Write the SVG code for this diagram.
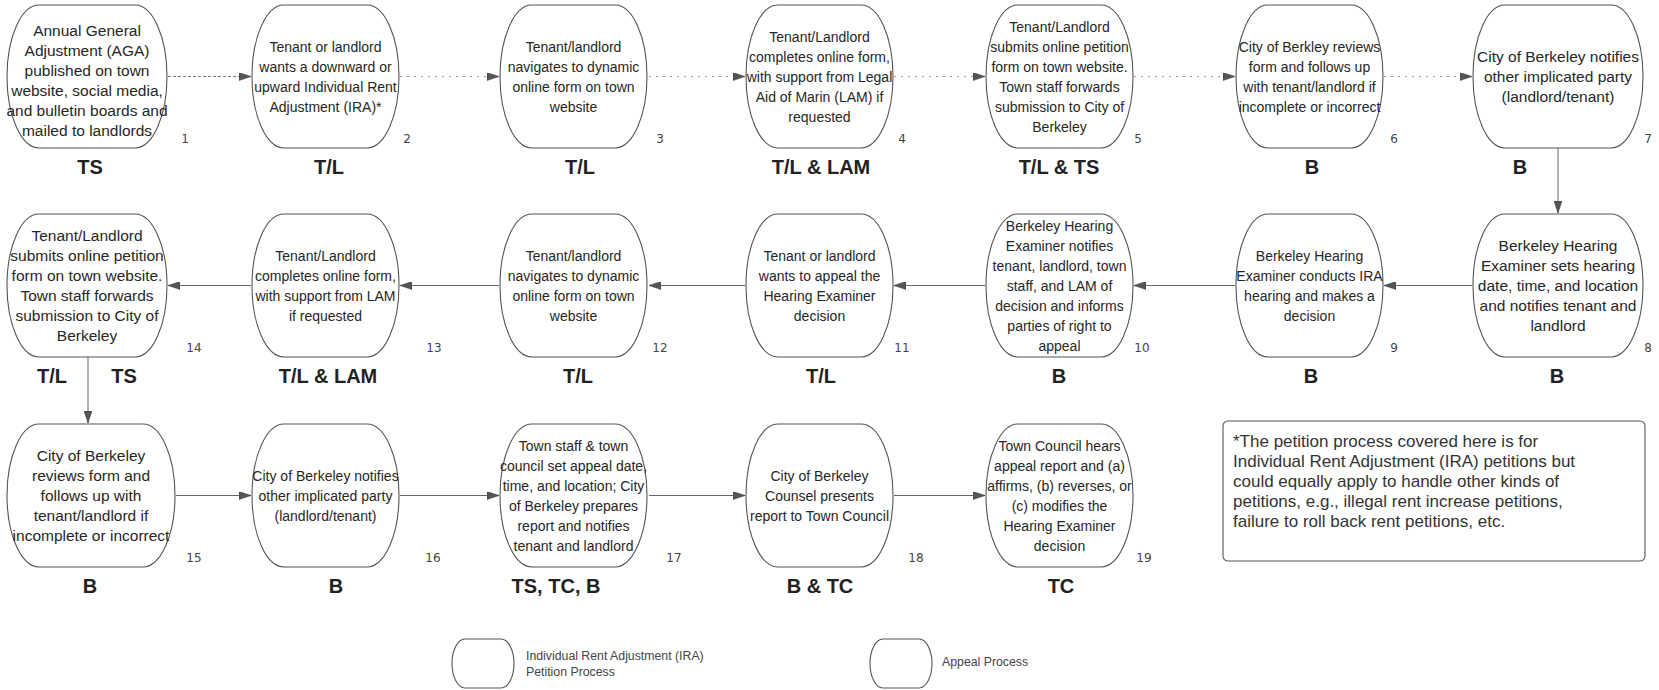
<svg xmlns="http://www.w3.org/2000/svg" width="1659" height="690" viewBox="0 0 1659 690">
<defs>
<style>
.node{fill:#fff;stroke:#555;stroke-width:1.1}
.t{font-family:"Liberation Sans",Arial,sans-serif;font-size:14px;fill:#262626;text-anchor:middle}
.tw{font-family:"Liberation Sans",Arial,sans-serif;font-size:15.5px;fill:#262626;text-anchor:middle}
.lbl{font-family:"Liberation Sans",Arial,sans-serif;font-size:20px;font-weight:bold;fill:#222;text-anchor:middle}
.num{font-family:"DejaVu Sans",sans-serif;font-size:12px;fill:#444;text-anchor:middle}
.dash{fill:none;stroke:#777;stroke-width:1;stroke-dasharray:3 2}
.dot{fill:none;stroke:#999;stroke-width:1;stroke-dasharray:2 5}
.sol{fill:none;stroke:#666;stroke-width:1}
.note{font-family:"Liberation Sans",Arial,sans-serif;font-size:17px;fill:#333}
.leg{font-family:"Liberation Sans",Arial,sans-serif;font-size:12.3px;fill:#444}
</style>
<marker id="ah" markerUnits="userSpaceOnUse" markerWidth="12" markerHeight="8" refX="12" refY="4" orient="auto">
<path d="M0,0 L12,4 L0,8 Z" fill="#555" stroke="#333" stroke-width="0.5"/>
</marker>
</defs>
<rect width="1659" height="690" fill="#fff"/>

<g id="connectors">
<line class="dash" x1="168" y1="76.5" x2="251" y2="76.5" marker-end="url(#ah)"/>
<line class="dot" x1="400" y1="76.5" x2="499" y2="76.5" marker-end="url(#ah)"/>
<line class="dot" x1="649" y1="76.5" x2="745" y2="76.5" marker-end="url(#ah)"/>
<line class="dot" x1="894" y1="76.5" x2="985" y2="76.5" marker-end="url(#ah)"/>
<line class="dot" x1="1134" y1="76.5" x2="1235" y2="76.5" marker-end="url(#ah)"/>
<line class="dot" x1="1384" y1="76.5" x2="1472" y2="76.5" marker-end="url(#ah)"/>
<line class="sol" x1="1558" y1="148" x2="1558" y2="213" marker-end="url(#ah)"/>
<line class="sol" x1="1472" y1="285.5" x2="1384" y2="285.5" marker-end="url(#ah)"/>
<line class="sol" x1="1235" y1="285.5" x2="1134" y2="285.5" marker-end="url(#ah)"/>
<line class="sol" x1="985" y1="285.5" x2="894" y2="285.5" marker-end="url(#ah)"/>
<line class="sol" x1="745" y1="285.5" x2="649" y2="285.5" marker-end="url(#ah)"/>
<line class="sol" x1="499" y1="285.5" x2="400" y2="285.5" marker-end="url(#ah)"/>
<line class="sol" x1="251" y1="285.5" x2="168" y2="285.5" marker-end="url(#ah)"/>
<line class="sol" x1="88" y1="357" x2="88" y2="423" marker-end="url(#ah)"/>
<line class="sol" x1="176" y1="495.5" x2="251" y2="495.5" marker-end="url(#ah)"/>
<line class="sol" x1="400" y1="495.5" x2="499" y2="495.5" marker-end="url(#ah)"/>
<line class="sol" x1="649" y1="495.5" x2="745" y2="495.5" marker-end="url(#ah)"/>
<line class="sol" x1="894" y1="495.5" x2="985" y2="495.5" marker-end="url(#ah)"/>
</g>

<g id="n1">
<rect class="node" x="7" y="5" width="160" height="143" rx="32" ry="71.5"/>
<text class="tw"><tspan x="87" y="36">Annual General</tspan><tspan x="87" y="56">Adjustment (AGA)</tspan><tspan x="87" y="76">published on town</tspan><tspan x="87" y="96">website, social media,</tspan><tspan x="87" y="116">and bulletin boards and</tspan><tspan x="87" y="136">mailed to landlords</tspan></text>
<text class="num" x="185" y="143">1</text>
<text class="lbl" x="90" y="174">TS</text>
</g>
<g id="n2">
<rect class="node" x="252" y="5" width="147" height="143" rx="32" ry="71.5"/>
<text class="t"><tspan x="325.5" y="52">Tenant or landlord</tspan><tspan x="325.5" y="72">wants a downward or</tspan><tspan x="325.5" y="92">upward Individual Rent</tspan><tspan x="325.5" y="112">Adjustment (IRA)*</tspan></text>
<text class="num" x="407" y="143">2</text>
<text class="lbl" x="329" y="174">T/L</text>
</g>
<g id="n3">
<rect class="node" x="500" y="5" width="147" height="143" rx="32" ry="71.5"/>
<text class="t"><tspan x="573.5" y="52">Tenant/landlord</tspan><tspan x="573.5" y="72">navigates to dynamic</tspan><tspan x="573.5" y="92">online form on town</tspan><tspan x="573.5" y="112">website</tspan></text>
<text class="num" x="660" y="143">3</text>
<text class="lbl" x="580" y="174">T/L</text>
</g>
<g id="n4">
<rect class="node" x="746" y="5" width="147" height="143" rx="32" ry="71.5"/>
<text class="t"><tspan x="819.5" y="42">Tenant/Landlord</tspan><tspan x="819.5" y="62">completes online form,</tspan><tspan x="819.5" y="82">with support from Legal</tspan><tspan x="819.5" y="102">Aid of Marin (LAM) if</tspan><tspan x="819.5" y="122">requested</tspan></text>
<text class="num" x="902" y="143">4</text>
<text class="lbl" x="821" y="174">T/L &amp; LAM</text>
</g>
<g id="n5">
<rect class="node" x="986" y="5" width="147" height="143" rx="32" ry="71.5"/>
<text class="t"><tspan x="1059.5" y="32">Tenant/Landlord</tspan><tspan x="1059.5" y="52">submits online petition</tspan><tspan x="1059.5" y="72">form on town website.</tspan><tspan x="1059.5" y="92">Town staff forwards</tspan><tspan x="1059.5" y="112">submission to City of</tspan><tspan x="1059.5" y="132">Berkeley</tspan></text>
<text class="num" x="1138" y="143">5</text>
<text class="lbl" x="1059" y="174">T/L &amp; TS</text>
</g>
<g id="n6">
<rect class="node" x="1236" y="5" width="147" height="143" rx="32" ry="71.5"/>
<text class="t"><tspan x="1309.5" y="52">City of Berkley reviews</tspan><tspan x="1309.5" y="72">form and follows up</tspan><tspan x="1309.5" y="92">with tenant/landlord if</tspan><tspan x="1309.5" y="112">incomplete or incorrect</tspan></text>
<text class="num" x="1394" y="143">6</text>
<text class="lbl" x="1312" y="174">B</text>
</g>
<g id="n7">
<rect class="node" x="1473" y="5" width="170" height="143" rx="32" ry="71.5"/>
<text class="tw"><tspan x="1558" y="62">City of Berkeley notifies</tspan><tspan x="1558" y="82">other implicated party</tspan><tspan x="1558" y="102">(landlord/tenant)</tspan></text>
<text class="num" x="1648" y="143">7</text>
<text class="lbl" x="1520" y="174">B</text>
</g>

<g id="n8">
<rect class="node" x="1473" y="214" width="170" height="143" rx="32" ry="71.5"/>
<text class="tw"><tspan x="1558" y="251">Berkeley Hearing</tspan><tspan x="1558" y="271">Examiner sets hearing</tspan><tspan x="1558" y="291">date, time, and location</tspan><tspan x="1558" y="311">and notifies tenant and</tspan><tspan x="1558" y="331">landlord</tspan></text>
<text class="num" x="1648" y="352">8</text>
<text class="lbl" x="1557" y="383">B</text>
</g>
<g id="n9">
<rect class="node" x="1236" y="214" width="147" height="143" rx="32" ry="71.5"/>
<text class="t"><tspan x="1309.5" y="261">Berkeley Hearing</tspan><tspan x="1309.5" y="281">Examiner conducts IRA</tspan><tspan x="1309.5" y="301">hearing and makes a</tspan><tspan x="1309.5" y="321">decision</tspan></text>
<text class="num" x="1394" y="352">9</text>
<text class="lbl" x="1311" y="383">B</text>
</g>
<g id="n10">
<rect class="node" x="986" y="214" width="147" height="143" rx="32" ry="71.5"/>
<text class="t"><tspan x="1059.5" y="231">Berkeley Hearing</tspan><tspan x="1059.5" y="251">Examiner notifies</tspan><tspan x="1059.5" y="271">tenant, landlord, town</tspan><tspan x="1059.5" y="291">staff, and LAM of</tspan><tspan x="1059.5" y="311">decision and informs</tspan><tspan x="1059.5" y="331">parties of right to</tspan><tspan x="1059.5" y="351">appeal</tspan></text>
<text class="num" x="1142" y="352">10</text>
<text class="lbl" x="1059" y="383">B</text>
</g>
<g id="n11">
<rect class="node" x="746" y="214" width="147" height="143" rx="32" ry="71.5"/>
<text class="t"><tspan x="819.5" y="261">Tenant or landlord</tspan><tspan x="819.5" y="281">wants to appeal the</tspan><tspan x="819.5" y="301">Hearing Examiner</tspan><tspan x="819.5" y="321">decision</tspan></text>
<text class="num" x="902" y="352">11</text>
<text class="lbl" x="821" y="383">T/L</text>
</g>
<g id="n12">
<rect class="node" x="500" y="214" width="147" height="143" rx="32" ry="71.5"/>
<text class="t"><tspan x="573.5" y="261">Tenant/landlord</tspan><tspan x="573.5" y="281">navigates to dynamic</tspan><tspan x="573.5" y="301">online form on town</tspan><tspan x="573.5" y="321">website</tspan></text>
<text class="num" x="660" y="352">12</text>
<text class="lbl" x="578" y="383">T/L</text>
</g>
<g id="n13">
<rect class="node" x="252" y="214" width="147" height="143" rx="32" ry="71.5"/>
<text class="t"><tspan x="325.5" y="261">Tenant/Landlord</tspan><tspan x="325.5" y="281">completes online form,</tspan><tspan x="325.5" y="301">with support from LAM</tspan><tspan x="325.5" y="321">if requested</tspan></text>
<text class="num" x="434" y="352">13</text>
<text class="lbl" x="328" y="383">T/L &amp; LAM</text>
</g>
<g id="n14">
<rect class="node" x="7" y="214" width="160" height="143" rx="32" ry="71.5"/>
<text class="tw"><tspan x="87" y="241">Tenant/Landlord</tspan><tspan x="87" y="261">submits online petition</tspan><tspan x="87" y="281">form on town website.</tspan><tspan x="87" y="301">Town staff forwards</tspan><tspan x="87" y="321">submission to City of</tspan><tspan x="87" y="341">Berkeley</tspan></text>
<text class="num" x="194" y="352">14</text>
<text class="lbl" x="52" y="383">T/L</text>
<text class="lbl" x="124" y="383">TS</text>
</g>

<g id="n15">
<rect class="node" x="7" y="424" width="168" height="143" rx="32" ry="71.5"/>
<text class="tw"><tspan x="91" y="461">City of Berkeley</tspan><tspan x="91" y="481">reviews form and</tspan><tspan x="91" y="501">follows up with</tspan><tspan x="91" y="521">tenant/landlord if</tspan><tspan x="91" y="541">incomplete or incorrect</tspan></text>
<text class="num" x="194" y="562">15</text>
<text class="lbl" x="90" y="593">B</text>
</g>
<g id="n16">
<rect class="node" x="252" y="424" width="147" height="143" rx="32" ry="71.5"/>
<text class="t"><tspan x="325.5" y="481">City of Berkeley notifies</tspan><tspan x="325.5" y="501">other implicated party</tspan><tspan x="325.5" y="521">(landlord/tenant)</tspan></text>
<text class="num" x="433" y="562">16</text>
<text class="lbl" x="336" y="593">B</text>
</g>
<g id="n17">
<rect class="node" x="500" y="424" width="147" height="143" rx="32" ry="71.5"/>
<text class="t"><tspan x="573.5" y="451">Town staff &amp; town</tspan><tspan x="573.5" y="471">council set appeal date,</tspan><tspan x="573.5" y="491">time, and location; City</tspan><tspan x="573.5" y="511">of Berkeley prepares</tspan><tspan x="573.5" y="531">report and notifies</tspan><tspan x="573.5" y="551">tenant and landlord</tspan></text>
<text class="num" x="674" y="562">17</text>
<text class="lbl" x="556" y="593">TS, TC, B</text>
</g>
<g id="n18">
<rect class="node" x="746" y="424" width="147" height="143" rx="32" ry="71.5"/>
<text class="t"><tspan x="819.5" y="481">City of Berkeley</tspan><tspan x="819.5" y="501">Counsel presents</tspan><tspan x="819.5" y="521">report to Town Council</tspan></text>
<text class="num" x="916" y="562">18</text>
<text class="lbl" x="820" y="593">B &amp; TC</text>
</g>
<g id="n19">
<rect class="node" x="986" y="424" width="147" height="143" rx="32" ry="71.5"/>
<text class="t"><tspan x="1059.5" y="451">Town Council hears</tspan><tspan x="1059.5" y="471">appeal report and (a)</tspan><tspan x="1059.5" y="491">affirms, (b) reverses, or</tspan><tspan x="1059.5" y="511">(c) modifies the</tspan><tspan x="1059.5" y="531">Hearing Examiner</tspan><tspan x="1059.5" y="551">decision</tspan></text>
<text class="num" x="1144" y="562">19</text>
<text class="lbl" x="1061" y="593">TC</text>
</g>

<g id="footnote">
<rect x="1223" y="421" width="422" height="140" rx="5" ry="5" fill="#fff" stroke="#555" stroke-width="1.1"/>
<text class="note"><tspan x="1233" y="447">*The petition process covered here is for</tspan><tspan x="1233" y="467">Individual Rent Adjustment (IRA) petitions but</tspan><tspan x="1233" y="487">could equally apply to handle other kinds of</tspan><tspan x="1233" y="507">petitions, e.g., illegal rent increase petitions,</tspan><tspan x="1233" y="527">failure to roll back rent petitions, etc.</tspan></text>
</g>

<g id="legend-ira">
<rect class="node" x="452" y="639" width="62" height="49" rx="13" ry="24.5"/>
<text class="leg"><tspan x="526" y="660">Individual Rent Adjustment (IRA)</tspan><tspan x="526" y="676">Petition Process</tspan></text>
</g>
<g id="legend-appeal">
<rect class="node" x="870" y="639" width="62" height="49" rx="13" ry="24.5"/>
<text class="leg" x="942" y="666">Appeal Process</text>
</g>
</svg>
